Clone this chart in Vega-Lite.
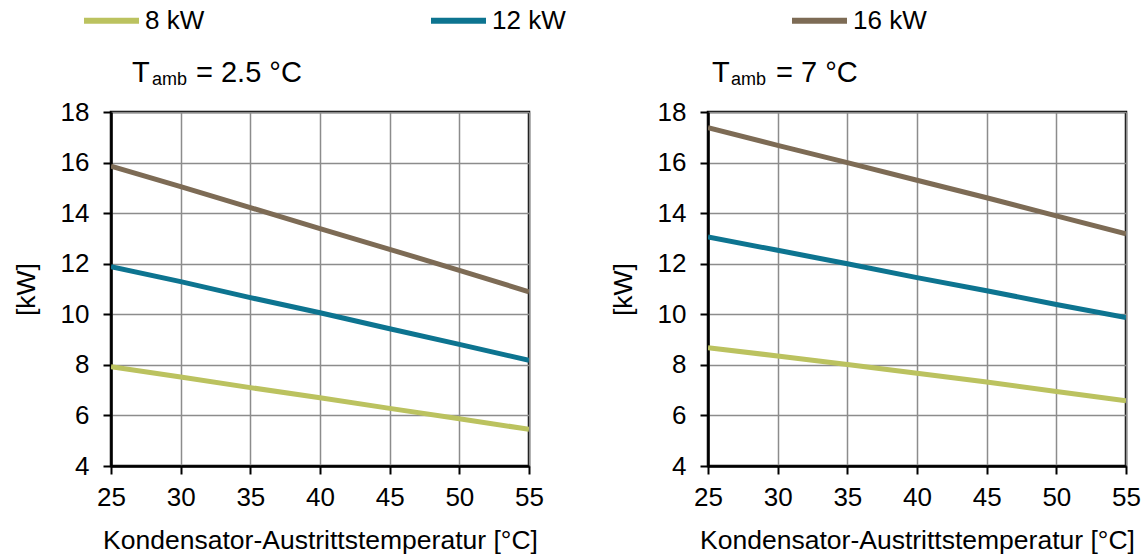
{
  "$schema": "https://vega.github.io/schema/vega-lite/v6.json",
  "padding": {"left": 11, "top": -10, "right": 5, "bottom": 5},
  "background": "white",
  "config": {
    "font": "Liberation Sans",
    "view": {"stroke": "black", "strokeWidth": 2.5},
    "axis": {
      "domainColor": "black", "domainWidth": 2.5,
      "tickColor": "black", "tickWidth": 2, "tickSize": 8,
      "gridColor": "#8c8c8c", "gridWidth": 1.5,
      "labelFontSize": 26, "labelColor": "black", "labelFont": "Liberation Sans", "labelFlush": false,
      "titleFontSize": 26.5, "titleColor": "black", "titleFontWeight": "normal", "titleFont": "Liberation Sans"
    },
    "legend": {"labelFont": "Liberation Sans", "labelColor": "black"}
  },
  "datasets": {
    "kw": [
      {"p": "2.5", "s": "16 kW", "t": 25, "kw": 15.86}, {"p": "2.5", "s": "16 kW", "t": 30, "kw": 15.05}, {"p": "2.5", "s": "16 kW", "t": 35, "kw": 14.22}, {"p": "2.5", "s": "16 kW", "t": 40, "kw": 13.39}, {"p": "2.5", "s": "16 kW", "t": 45, "kw": 12.57}, {"p": "2.5", "s": "16 kW", "t": 50, "kw": 11.74}, {"p": "2.5", "s": "16 kW", "t": 55, "kw": 10.89},
      {"p": "2.5", "s": "12 kW", "t": 25, "kw": 11.88}, {"p": "2.5", "s": "12 kW", "t": 30, "kw": 11.29}, {"p": "2.5", "s": "12 kW", "t": 35, "kw": 10.66}, {"p": "2.5", "s": "12 kW", "t": 40, "kw": 10.06}, {"p": "2.5", "s": "12 kW", "t": 45, "kw": 9.43}, {"p": "2.5", "s": "12 kW", "t": 50, "kw": 8.81}, {"p": "2.5", "s": "12 kW", "t": 55, "kw": 8.18},
      {"p": "2.5", "s": "8 kW", "t": 25, "kw": 7.93}, {"p": "2.5", "s": "8 kW", "t": 30, "kw": 7.52}, {"p": "2.5", "s": "8 kW", "t": 35, "kw": 7.10}, {"p": "2.5", "s": "8 kW", "t": 40, "kw": 6.70}, {"p": "2.5", "s": "8 kW", "t": 45, "kw": 6.28}, {"p": "2.5", "s": "8 kW", "t": 50, "kw": 5.87}, {"p": "2.5", "s": "8 kW", "t": 55, "kw": 5.45},
      {"p": "7", "s": "16 kW", "t": 25, "kw": 17.38}, {"p": "7", "s": "16 kW", "t": 30, "kw": 16.68}, {"p": "7", "s": "16 kW", "t": 35, "kw": 16.00}, {"p": "7", "s": "16 kW", "t": 40, "kw": 15.30}, {"p": "7", "s": "16 kW", "t": 45, "kw": 14.61}, {"p": "7", "s": "16 kW", "t": 50, "kw": 13.89}, {"p": "7", "s": "16 kW", "t": 55, "kw": 13.18},
      {"p": "7", "s": "12 kW", "t": 25, "kw": 13.06}, {"p": "7", "s": "12 kW", "t": 30, "kw": 12.53}, {"p": "7", "s": "12 kW", "t": 35, "kw": 12.00}, {"p": "7", "s": "12 kW", "t": 40, "kw": 11.45}, {"p": "7", "s": "12 kW", "t": 45, "kw": 10.93}, {"p": "7", "s": "12 kW", "t": 50, "kw": 10.39}, {"p": "7", "s": "12 kW", "t": 55, "kw": 9.87},
      {"p": "7", "s": "8 kW", "t": 25, "kw": 8.68}, {"p": "7", "s": "8 kW", "t": 30, "kw": 8.35}, {"p": "7", "s": "8 kW", "t": 35, "kw": 8.01}, {"p": "7", "s": "8 kW", "t": 40, "kw": 7.67}, {"p": "7", "s": "8 kW", "t": 45, "kw": 7.32}, {"p": "7", "s": "8 kW", "t": 50, "kw": 6.95}, {"p": "7", "s": "8 kW", "t": 55, "kw": 6.58}
    ],
    "one": [{}]
  },
  "spacing": 179,
  "bounds": "flush",
  "hconcat": [
    {
      "width": 418, "height": 354,
      "layer": [
        {
          "data": {"name": "kw"},
          "transform": [{"filter": "datum.p == '2.5'"}],
          "mark": {"type": "line", "strokeWidth": 5, "clip": true},
          "encoding": {
            "x": {"field": "t", "type": "quantitative", "scale": {"domain": [25, 55], "nice": false, "zero": false},
                  "axis": {"values": [25, 30, 35, 40, 45, 50, 55], "title": "Kondensator-Austrittstemperatur [°C]", "labelPadding": 10, "titlePadding": 17}},
            "y": {"field": "kw", "type": "quantitative", "scale": {"domain": [4, 18], "nice": false, "zero": false},
                  "axis": {"values": [4, 6, 8, 10, 12, 14, 16, 18], "title": "[kW]", "labelPadding": 14, "titlePadding": 20}},
            "color": {"field": "s", "type": "nominal",
                      "scale": {"domain": ["8 kW", "12 kW", "16 kW"], "range": ["#BBC25F", "#0D7490", "#7D6B55"]},
                      "legend": {"orient": "none", "legendX": -30, "legendY": -122, "direction": "horizontal", "title": null,
                                 "symbolType": "stroke", "symbolSize": 3025, "symbolStrokeWidth": 6, "labelFontSize": 26,
                                 "columnPadding": 214, "labelOffset": 3, "padding": 0}}
          }
        },
        {"data": {"name": "one"}, "mark": {"type": "text", "text": "T", "align": "left", "baseline": "alphabetic", "fontSize": 29, "dx": 21, "dy": -30},
         "encoding": {"x": {"datum": 25, "type": "quantitative"}, "y": {"datum": 18, "type": "quantitative"}}},
        {"data": {"name": "one"}, "mark": {"type": "text", "text": "amb", "align": "left", "baseline": "alphabetic", "fontSize": 18, "dx": 41, "dy": -27},
         "encoding": {"x": {"datum": 25, "type": "quantitative"}, "y": {"datum": 18, "type": "quantitative"}}},
        {"data": {"name": "one"}, "mark": {"type": "text", "text": "= 2.5 °C", "align": "left", "baseline": "alphabetic", "fontSize": 29, "dx": 85, "dy": -30},
         "encoding": {"x": {"datum": 25, "type": "quantitative"}, "y": {"datum": 18, "type": "quantitative"}}}
      ]
    },
    {
      "width": 418, "height": 354,
      "layer": [
        {
          "data": {"name": "kw"},
          "transform": [{"filter": "datum.p == '7'"}],
          "mark": {"type": "line", "strokeWidth": 5, "clip": true},
          "encoding": {
            "x": {"field": "t", "type": "quantitative", "scale": {"domain": [25, 55], "nice": false, "zero": false},
                  "axis": {"values": [25, 30, 35, 40, 45, 50, 55], "title": "Kondensator-Austrittstemperatur [°C]", "labelPadding": 10, "titlePadding": 17}},
            "y": {"field": "kw", "type": "quantitative", "scale": {"domain": [4, 18], "nice": false, "zero": false},
                  "axis": {"values": [4, 6, 8, 10, 12, 14, 16, 18], "title": "[kW]", "labelPadding": 14, "titlePadding": 20}},
            "color": {"field": "s", "type": "nominal",
                      "scale": {"domain": ["8 kW", "12 kW", "16 kW"], "range": ["#BBC25F", "#0D7490", "#7D6B55"]},
                      "legend": {"orient": "none", "legendX": -30, "legendY": -122, "direction": "horizontal", "title": null,
                                 "symbolType": "stroke", "symbolSize": 3025, "symbolStrokeWidth": 6, "labelFontSize": 26,
                                 "columnPadding": 214, "labelOffset": 3, "padding": 0}}
          }
        },
        {"data": {"name": "one"}, "mark": {"type": "text", "text": "T", "align": "left", "baseline": "alphabetic", "fontSize": 29, "dx": 4, "dy": -30},
         "encoding": {"x": {"datum": 25, "type": "quantitative"}, "y": {"datum": 18, "type": "quantitative"}}},
        {"data": {"name": "one"}, "mark": {"type": "text", "text": "amb", "align": "left", "baseline": "alphabetic", "fontSize": 18, "dx": 23, "dy": -27},
         "encoding": {"x": {"datum": 25, "type": "quantitative"}, "y": {"datum": 18, "type": "quantitative"}}},
        {"data": {"name": "one"}, "mark": {"type": "text", "text": "= 7 °C", "align": "left", "baseline": "alphabetic", "fontSize": 29, "dx": 68, "dy": -30},
         "encoding": {"x": {"datum": 25, "type": "quantitative"}, "y": {"datum": 18, "type": "quantitative"}}}
      ]
    }
  ]
}
